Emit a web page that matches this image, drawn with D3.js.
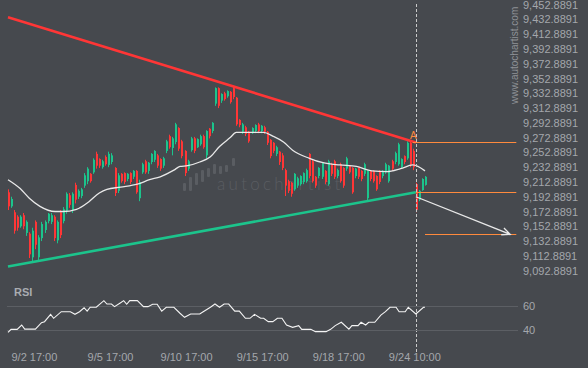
<!DOCTYPE html>
<html>
<head>
<meta charset="utf-8">
<script src="https://cdn.jsdelivr.net/npm/d3@7"></script>
<style>
  body { margin: 0; background: #46494e; }
  svg { display: block; font-family: "Liberation Sans", Arial, sans-serif; }
</style>
</head>
<body>
<div id="chart"></div>
<script>

// candles (index 0..137), prices
var opens = [9199,9180,9172,9166,9153,9168,9144,9143,9111,9159,
  9111,9137,9148,9160,9159,9166,9134,9172,9160,9174,
  9195,9175,9209,9193,9194,9208,9214,9224,9226,9251,
  9244,9233,9247,9236,9240,9232,9201,9224,9225,9217,
  9225,9220,9228,9191,9226,9241,9228,9240,9243,9249,
  9244,9235,9255,9275,9259,9267,9286,9268,9255,9231,
  9256,9272,9260,9264,9275,9249,9285,9282,9319,9340,
  9323,9333,9329,9335,9340,9327,9297,9281,9287,9281,
  9279,9282,9291,9282,9287,9281,9270,9266,9251,9254,
  9249,9229,9214,9212,9203,9208,9210,9213,9214,9251,
  9241,9220,9221,9220,9228,9210,9237,9241,9221,9237,
  9232,9231,9235,9232,9221,9232,9228,9224,9191,9228,
  9228,9221,9228,9221,9226,9214,9241,9240,9237,9233,
  9248,9245,9266,9255,9210,9189,9202,9209];
var closes = [9180,9190,9147,9151,9166,9153,9159,9115,9147,9128,
  9138,9156,9159,9170,9168,9137,9159,9141,9176,9197,
  9182,9197,9189,9201,9203,9222,9231,9214,9243,9235,
  9235,9241,9237,9251,9249,9198,9222,9214,9213,9224,
  9213,9228,9199,9213,9237,9226,9239,9251,9255,9235,
  9231,9245,9268,9260,9272,9291,9258,9248,9225,9241,
  9272,9255,9271,9275,9260,9282,9275,9293,9340,9316,
  9332,9325,9336,9321,9328,9291,9290,9291,9278,9268,
  9286,9290,9282,9289,9281,9266,9248,9255,9260,9240,
  9232,9208,9201,9197,9224,9218,9221,9225,9229,9221,
  9214,9208,9232,9239,9213,9241,9224,9220,9229,9214,
  9208,9245,9226,9199,9231,9220,9217,9237,9228,9217,
  9214,9203,9213,9228,9237,9235,9231,9252,9264,9244,
  9240,9266,9236,9233,9175,9201,9217,9220];
var highs = [9203,9193,9175,9168,9168,9171,9161,9145,9151,9161,
  9141,9159,9161,9171,9171,9168,9161,9175,9179,9199,
  9198,9199,9212,9203,9205,9225,9233,9225,9245,9254,
  9245,9243,9249,9254,9252,9233,9225,9225,9226,9225,
  9226,9229,9229,9216,9239,9243,9240,9252,9256,9251,
  9245,9247,9270,9277,9274,9293,9287,9270,9256,9243,
  9274,9274,9272,9277,9277,9283,9286,9294,9341,9341,
  9333,9335,9337,9336,9343,9328,9298,9293,9289,9282,
  9287,9291,9293,9290,9289,9282,9271,9267,9262,9255,
  9252,9231,9216,9213,9225,9220,9222,9226,9231,9252,
  9243,9221,9233,9240,9229,9243,9239,9243,9231,9239,
  9233,9247,9236,9233,9232,9233,9229,9239,9229,9229,
  9229,9222,9229,9229,9239,9236,9243,9254,9266,9245,
  9249,9268,9268,9258,9212,9202,9218,9221];
var lows = [9175,9178,9143,9147,9151,9149,9140,9110,9106,9122,
  9106,9133,9144,9157,9156,9133,9130,9137,9157,9170,
  9178,9171,9184,9190,9191,9205,9210,9212,9224,9231,
  9232,9231,9235,9233,9237,9194,9198,9212,9210,9214,
  9210,9217,9197,9187,9224,9224,9224,9237,9240,9232,
  9228,9232,9252,9258,9249,9264,9255,9245,9221,9228,
  9254,9252,9259,9262,9258,9245,9272,9279,9316,9313,
  9320,9323,9327,9319,9325,9289,9287,9278,9275,9266,
  9278,9279,9279,9279,9278,9263,9245,9252,9248,9236,
  9229,9194,9198,9193,9201,9205,9208,9210,9212,9218,
  9212,9205,9218,9217,9210,9208,9221,9217,9218,9212,
  9205,9228,9224,9197,9218,9217,9214,9221,9187,9214,
  9212,9201,9210,9218,9224,9212,9228,9237,9235,9231,
  9237,9243,9233,9229,9172,9187,9201,9208];

// moving average, sampled at candle indices
var maAt = [0,4,7,10.5,15.5,18,22.5,26.5,30,32.5,37,42.5,46.5,50,54.5,56.5,59,63,66.5,69.5,
  73,75,78.5,84,87,90.5,93.5,99,103.5,109,114.5,119.5,124.5,129,133,137];
var maValues = [9216,9204,9191,9180,9173,9173,9176,9186,9198,9203,9206,9210,9216,9220,9229,9234,9235,9240,9247,9261,
  9273,9280,9280,9280,9275,9267,9256,9245,9239,9236,9234,9228,9227,9231,9236,9228];

// RSI
var rsiAt = [0,1,3,4.5,5.5,9,11,12,14,15,17.5,20.5,22,23.5,25,26,27,29,31.5,32.5,
  34,35,37,38,39,40,42.5,44.5,46,47.5,49,50.5,52,54.5,56.5,58,60,63,64,66.5,
  68,69.5,71,72.5,74.5,76,78,79.5,81,83,84,85.5,87,88.5,90,91.5,93.5,95.5,96.5,99.5,
  101,104.5,106,107.5,109.5,112,113,115,116,117.5,118.5,120.5,122.5,124,125.5,127.5,128.5,130.5,131.5,134,
  136.5,137];
var rsiValues = [38.3,40.8,40.8,44.4,41,41,46.4,47.2,53.3,50,55.5,55.5,53.3,55.5,58.8,56,59.2,59.2,64.7,61.9,
  61.9,59.7,63,64.7,61.7,64.7,64.7,59.7,59.7,61.7,61.7,56,59.2,59.2,54.2,50.8,53.6,53.6,55.3,59.2,
  61.9,59.2,61.9,61.9,56,56,50,50,53.3,50,50,47.2,47.2,50,50,44.4,42.5,43.9,40.8,40.8,
  38.9,38.9,40.8,43.9,46.7,41,43.9,43.9,46.7,44.4,46.7,46.7,52.7,55.5,59.2,59.2,55.5,55.5,59.2,53.6,
  59.2,59.2];

// axes
var xTickAt = [9, 34, 59, 84, 109, 134];
var xTickLabels = ["9/2 17:00", "9/5 17:00", "9/10 17:00", "9/15 17:00", "9/18 17:00", "9/24 10:00"];
var priceTicks = [9092.8891,9112.8891,9132.8891,9152.8891,9172.8891,9192.8891,9212.8891,9232.8891,
  9252.8891,9272.8891,9292.8891,9312.8891,9332.8891,9352.8891,9372.8891,9392.8891,9412.8891,9432.8891,9452.8891];
var rsiTicks = [40, 60];

// pattern: trend lines [index, price], levels, projection
var resistance = [[0, 9435.8], [134, 9266.4]];
var support = [[0, 9098.6], [134, 9199.0]];
var breakoutAt = 134;
var levelA = [133, 167, 9267];
var levelBreak = [134, 167, 9199];
var levelTarget = [137, 167, 9142];
var projection = [[134, 9193], [165, 9142]];

var W = 588, H = 368;
var red = "#ff3636", green = "#1cc48c", orange = "#ff8a3d", txt = "#a4a7ac";

var svg = d3.select("#chart").append("svg")
    .attr("width", W)
    .attr("height", H);

svg.append("rect").attr("width", W).attr("height", H).attr("fill", "#46494e");

var x = d3.scaleLinear().domain([0, 137]).range([8, 425]);
var y = d3.scaleLinear().domain([9092.8891, 9452.8891]).range([270.7, 4.7]);
var yr = d3.scaleLinear().domain([40, 60]).range([330.3, 306.3]);

// watermark
var wm = svg.append("g").attr("fill", "#5a5d62");
var wmBars = [[183,183,8],[189,177,14],[195,173,12],[201,170,12],[207,168,9],[213,164,10],[219,166,8],[225,165,7],[232,158,8]];
wm.selectAll("rect").data(wmBars).enter().append("rect")
    .attr("x", d => d[0]).attr("y", d => d[1])
    .attr("width", 3).attr("height", d => d[2]).attr("rx", 1);
wm.append("text")
    .attr("x", 217).attr("y", 190)
    .attr("font-family", "Lato, 'Open Sans', sans-serif")
    .attr("font-weight", 300)
    .attr("font-size", "17px")
    .attr("letter-spacing", "3.3px")
    .text("autochartist");

// candles
var idx = d3.range(opens.length);
var candles = svg.append("g");
candles.selectAll(".wick").data(idx).enter().append("rect")
    .attr("class", "wick")
    .attr("x", i => Math.round(x(i)))
    .attr("y", i => y(highs[i]))
    .attr("width", 1)
    .attr("height", i => y(lows[i]) - y(highs[i]))
    .attr("fill", i => closes[i] >= opens[i] ? green : red);
candles.selectAll(".body").data(idx).enter().append("rect")
    .attr("class", "body")
    .attr("x", i => Math.round(x(i)))
    .attr("y", i => y(Math.max(opens[i], closes[i])))
    .attr("width", 2)
    .attr("height", i => Math.max(1, Math.abs(y(opens[i]) - y(closes[i]))))
    .attr("fill", i => closes[i] >= opens[i] ? green : red);

// moving average
var maLine = d3.line().x(d => x(d[0])).y(d => y(d[1])).curve(d3.curveMonotoneX);
svg.append("path")
    .attr("d", maLine(maAt.map((a, k) => [a, maValues[k]])))
    .attr("fill", "none").attr("stroke", "#e8e8e8").attr("stroke-width", 1.3);

// trend lines
var tl = d3.line().x(d => x(d[0])).y(d => y(d[1]));
svg.append("path").attr("d", tl(resistance))
    .attr("stroke", red).attr("stroke-width", 2.6).attr("fill", "none");
svg.append("path").attr("d", tl(support))
    .attr("stroke", green).attr("stroke-width", 2.6).attr("fill", "none");

// levels
svg.selectAll(".level").data([levelA, levelBreak, levelTarget]).enter().append("line")
    .attr("class", "level")
    .attr("x1", d => x(d[0])).attr("x2", d => x(d[1]))
    .attr("y1", d => Math.round(y(d[2])) + 0.5).attr("y2", d => Math.round(y(d[2])) + 0.5)
    .attr("stroke", orange).attr("stroke-width", 1);

svg.append("text")
    .attr("x", x(levelA[0]) + 0.5).attr("y", y(levelA[2]) - 3.5)
    .attr("text-anchor", "middle")
    .attr("font-size", "10px")
    .attr("fill", orange)
    .text("A");

// projection arrow
var p0 = [x(projection[0][0]), y(projection[0][1])],
    p1 = [x(projection[1][0]), y(projection[1][1])];
var ang = Math.atan2(p1[1] - p0[1], p1[0] - p0[0]);
var head = [ang + Math.PI - 0.42, ang + Math.PI + 0.42].map(a => [p1[0] + 9 * Math.cos(a), p1[1] + 9 * Math.sin(a)]);
svg.append("path")
    .attr("d", "M" + p0 + "L" + p1 + "M" + head[0] + "L" + p1 + "L" + head[1])
    .attr("fill", "none").attr("stroke", "#e8e8e8").attr("stroke-width", 1.3);

// breakout time marker
svg.append("line")
    .attr("x1", Math.round(x(breakoutAt)) + 0.5).attr("x2", Math.round(x(breakoutAt)) + 0.5)
    .attr("y1", 4).attr("y2", 352)
    .attr("stroke", "#c9c9c9").attr("stroke-width", 1)
    .attr("stroke-dasharray", "3,2");

// price axis
svg.selectAll(".ptick").data(priceTicks).enter().append("text")
    .attr("class", "ptick")
    .attr("x", 523).attr("y", d => y(d) + 4)
    .attr("font-size", "11px").attr("fill", txt)
    .text(d => d3.format(",.4f")(d));

svg.append("text")
    .attr("transform", "translate(518,104) rotate(-90)")
    .attr("font-size", "10px").attr("fill", "#8f9297")
    .text("www.autochartist.com");

// RSI panel
svg.append("text")
    .attr("x", 14).attr("y", 296)
    .attr("font-size", "11px").attr("font-weight", "bold").attr("fill", "#a9acb1")
    .text("RSI");

svg.selectAll(".rgrid").data(rsiTicks).enter().append("line")
    .attr("class", "rgrid")
    .attr("x1", 7).attr("x2", 518)
    .attr("y1", d => Math.round(yr(d)) + 0.5).attr("y2", d => Math.round(yr(d)) + 0.5)
    .attr("stroke", "#5c5f64");

svg.selectAll(".rtick").data(rsiTicks).enter().append("text")
    .attr("class", "rtick")
    .attr("x", 523).attr("y", d => yr(d) + 4)
    .attr("font-size", "11px").attr("fill", txt)
    .text(d => d);

var rsiLine = d3.line().x(d => x(d[0])).y(d => yr(d[1]));
svg.append("path")
    .attr("d", rsiLine(rsiAt.map((a, k) => [a, rsiValues[k]])))
    .attr("fill", "none").attr("stroke", "#f4f4f4").attr("stroke-width", 1.1);

// time axis
svg.selectAll(".xtick").data(xTickAt).enter().append("text")
    .attr("class", "xtick")
    .attr("x", d => x(d) - 1).attr("y", 361)
    .attr("text-anchor", "middle")
    .attr("font-size", "11px").attr("fill", txt)
    .text((d, k) => xTickLabels[k]);

</script>
</body>
</html>
